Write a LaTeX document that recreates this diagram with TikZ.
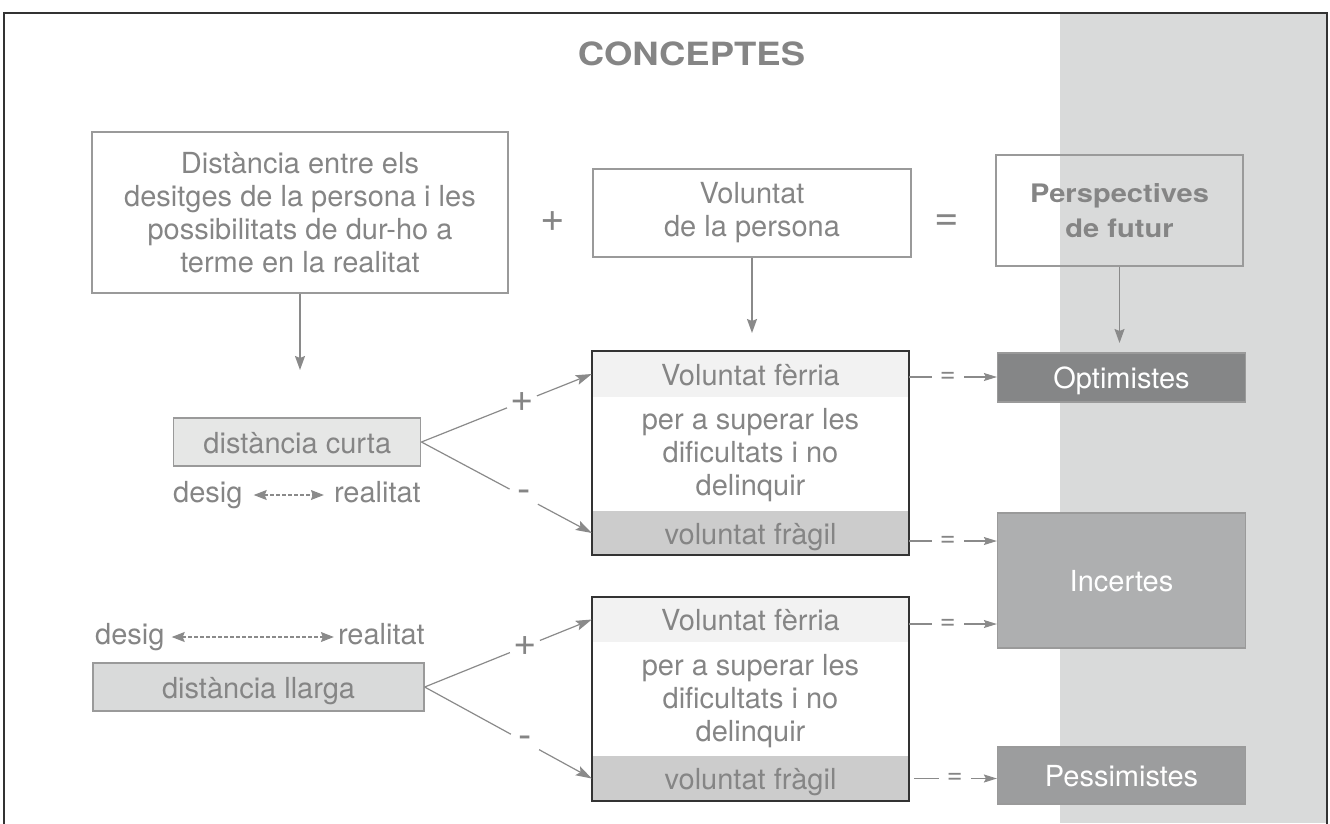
\documentclass[tikz,border=0pt]{standalone}
\usepackage{fontspec}
\setmainfont{TeX Gyre Heros}
\newfontfamily\widefont[FakeStretch=1.14]{TeX Gyre Heros}
\usetikzlibrary{arrows.meta,calc}
\definecolor{txt}{HTML}{858585}
\definecolor{ln}{HTML}{8A8A8A}
\definecolor{bord}{HTML}{9A9A9A}
\definecolor{band}{HTML}{D9DADA}
\definecolor{curtaf}{HTML}{E6E7E6}
\definecolor{llargaf}{HTML}{D9DADA}
\definecolor{ferf}{HTML}{F2F2F2}
\definecolor{fragf}{HTML}{CCCCCC}
\definecolor{optf}{HTML}{858687}
\definecolor{incf}{HTML}{AEAFB0}
\definecolor{pesf}{HTML}{9C9D9E}
\definecolor{framecol}{HTML}{333333}
\tikzset{
  bodyfont/.style={font=\fontsize{29}{33}\selectfont},
  tbox/.style={draw=bord, line width=1.3pt, inner sep=0pt, align=center, text=txt, bodyfont},
  strip/.style={inner sep=0pt, minimum width=317pt, text=txt, bodyfont, text height=22pt, text depth=0pt},
  gframe/.style={draw=framecol, line width=1.5pt, inner sep=0pt, minimum width=317pt, minimum height=204pt},
  midtext/.style={align=center, text=txt, bodyfont, inner sep=0pt},
  lbox/.style={draw=bord, line width=1.3pt, inner sep=0pt, text=txt, bodyfont, text height=22pt, text depth=0pt},
  resbox/.style={draw=bord, line width=1.2pt, inner sep=0pt, text=white, bodyfont, text height=22pt, text depth=0pt, minimum width=248pt},
  lab/.style={inner sep=0pt, text=txt, bodyfont, text height=20pt, text depth=6pt},
  bigsym/.style={inner sep=0pt, text=txt, font=\fontsize{42}{42}\selectfont},
  sign/.style={circle, fill=white, inner sep=0pt, minimum size=32pt, text=txt, font=\fontsize{40}{40}\selectfont},
  eqlab/.style={fill=white, inner sep=0pt, minimum width=32pt, minimum height=10pt, text=txt, font=\fontsize{27}{27}\selectfont},
  darrow/.style={draw=ln, line width=1.5pt, -{Stealth[length=14pt,width=10pt,inset=2pt]}},
  diag/.style={draw=ln, line width=1.2pt, -{Stealth[length=16pt,width=10pt,inset=3pt]}},
  eqar/.style={draw=ln, line width=1.1pt, -{Stealth[length=13pt,width=8pt,inset=2pt]}},
  dashar/.style={draw=ln, line width=1.1pt, dash pattern=on 4pt off 2pt, {Stealth[length=13pt,width=10pt,inset=2pt]}-{Stealth[length=13pt,width=10pt,inset=2pt]}},
}
\begin{document}
\begin{tikzpicture}[x=1pt,y=-1pt]
\useasboundingbox (0,0) rectangle (1330,823);
\fill[band] (1060,13) rectangle (1327,823);
\draw[framecol, line width=1.2pt] (4,830) -- (4,13) -- (1327,13) -- (1327,830);

\node[text=txt, inner sep=0pt, font=\widefont\bfseries\fontsize{32}{32}\selectfont] (title) at (691.5,53.5) {CONCEPTES};

% top row
\node[tbox, minimum width=416pt, minimum height=161pt] (b1) at (300,212.5)
  {Distància entre els\\desitges de la persona i les\\possibilitats de dur-ho a\\terme en la realitat};
\node[bigsym] (plus) at (553,222) {+};
\node[tbox, minimum width=318pt, minimum height=88pt] (b2) at (752,213) {Voluntat\\de la persona};
\node[bigsym] (eq) at (947,223) {=};
\node[tbox, minimum width=247pt, minimum height=111pt, font=\widefont\bfseries\fontsize{25.5}{35}\selectfont] (b3) at (1119.5,210.5) {Perspectives\\de futur};

\coordinate (a1) at (300,370);
\coordinate (a2) at (752,333);
\coordinate (a3) at (1119.5,343);
\draw[darrow] (b1.south) -- (a1);
\draw[darrow] (b2.south) -- (a2);
\draw[darrow] (b3.south) -- (a3);

% group 1
\node[strip, fill=ferf, minimum height=46pt] (f1) at (750.5,374) {Voluntat fèrria};
\node[strip, fill=fragf, minimum height=44pt] (g1) at (750.5,533) {voluntat fràgil};
\node[midtext] (m1) at (750.5,455) {per a superar les\\dificultats i no\\delinquir};
\node[gframe] (G1) at (750.5,453) {};

% group 2
\node[strip, fill=ferf, minimum height=45pt] (f2) at (750.5,619.5) {Voluntat fèrria};
\node[strip, fill=fragf, minimum height=45pt] (g2) at (750.5,778.5) {voluntat fràgil};
\node[midtext] (m2) at (750.5,701) {per a superar les\\dificultats i no\\delinquir};
\node[gframe] (G2) at (750.5,699) {};

% results
\node[resbox, fill=optf, minimum height=49pt] (opt) at (1121.5,377.5) {Optimistes};
\node[resbox, fill=incf, minimum height=135pt] (inc) at (1121.5,580.5) {Incertes};
\node[resbox, fill=pesf, minimum height=57pt] (pes) at (1121.5,775.5) {Pessimistes};

% left
\node[lbox, fill=curtaf, minimum width=247pt, minimum height=48pt] (curta) at (297.3,442) {distància curta};
\node[lab, anchor=base west] (d1) at (173,502) {desig};
\node[lab, anchor=base east] (r1) at (421,502) {realitat};
\draw[dashar, shorten <=11pt, shorten >=10pt] (d1.east) -- (r1.west);

\node[lbox, fill=llargaf, minimum width=331pt, minimum height=48pt] (llarga) at (258.5,687) {distància llarga};
\node[lab, anchor=base west] (d2) at (95,644) {desig};
\node[lab, anchor=base east] (r2) at (425,644) {realitat};
\draw[dashar, shorten <=7pt, shorten >=4pt] (d2.east) -- (r2.west);

% diagonals
\draw[diag] (curta.east) -- node[sign, pos=0.59] {+} (f1.west);
\draw[diag] (curta.east) -- node[sign, pos=0.6] {-} (g1.west);
\draw[diag] (llarga.east) -- node[sign, pos=0.6] {+} (f2.west);
\draw[diag] (llarga.east) -- node[sign, pos=0.6] {-} (g2.west);

% equal arrows
\draw[eqar] ([yshift=-3pt]f1.east) -- node[eqlab, pos=0.44] {=} ([yshift=-3pt]f1.east -| opt.west);
\draw[eqar] ([yshift=-8pt]g1.east) -- node[eqlab, pos=0.44] {=} ([yshift=-8pt]g1.east -| inc.west);
\draw[eqar] ([yshift=-4.5pt]f2.east) -- node[eqlab, pos=0.44] {=} ([yshift=-4.5pt]f2.east -| inc.west);
\draw[eqar, shorten <=5pt] (g2.east) -- node[eqlab, pos=0.52] {=} (g2.east -| pes.west);
\end{tikzpicture}
\end{document}
